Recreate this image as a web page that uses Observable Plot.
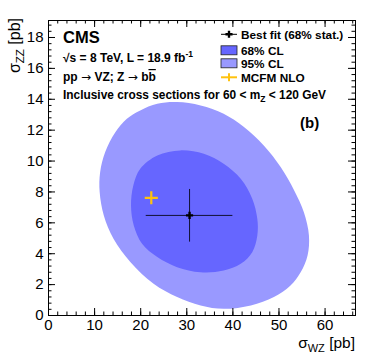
<!DOCTYPE html>
<html><head><meta charset="utf-8">
<script src="https://cdn.jsdelivr.net/npm/d3@7"></script>
<script src="https://cdn.jsdelivr.net/npm/@observablehq/plot@0.6"></script>
<style>
body{margin:0;background:#fff}
#chart svg{font-family:"Liberation Sans",Arial,Helvetica,sans-serif;overflow:visible}
</style>
</head><body><div id="chart"></div>
<script>
// 95% CL contour (sigma_WZ, sigma_ZZ)
const cl95X = [19.9, 23.6, 27.9, 33.0, 38.0, 42.4, 46.7, 50.4, 53.3, 55.4, 56.5, 56.2, 54.7, 52.5, 48.9, 43.9, 38.0, 33.0, 27.9, 22.8, 17.8, 14.1, 12.0, 11.1, 11.2, 12.3, 14.5, 17.0];
const cl95Y = [13.28, 13.71, 13.82, 13.60, 13.06, 12.20, 11.01, 9.60, 8.10, 6.69, 5.18, 3.89, 2.80, 1.94, 1.19, 0.65, 0.43, 0.65, 1.19, 2.05, 3.45, 4.97, 6.48, 7.99, 9.28, 10.58, 11.87, 12.74];
// 68% CL contour
const cl68X = [23.6, 28.6, 33.7, 38.0, 41.7, 44.2, 45.3, 45.3, 44.2, 41.7, 38.0, 33.0, 27.9, 23.6, 20.3, 18.5, 17.9, 18.4, 19.9];
const cl68Y = [10.36, 10.69, 10.47, 9.82, 8.85, 7.56, 6.26, 5.18, 4.10, 3.35, 2.91, 2.80, 3.13, 3.78, 4.64, 5.83, 7.12, 8.42, 9.50];
// best fit with 68% stat. errors
const fitX = [30.6], fitY = [6.48];
const fitXLo = [21.2], fitXHi = [40.0];
const fitYLo = [4.75], fitYHi = [8.16];
// MCFM NLO prediction
const mcfmX = [22.3], mcfmY = [7.62];
// ticks
const xMajor = [0, 10, 20, 30, 40, 50, 60];
const xMinor = [0, 2, 4, 6, 8, 10, 12, 14, 16, 18, 20, 22, 24, 26, 28, 30, 32, 34, 36, 38, 40, 42, 44, 46, 48, 50, 52, 54, 56, 58, 60, 62, 64, 66];
const yMajor = [0, 2, 4, 6, 8, 10, 12, 14, 16, 18];
const yMinor = [0, 0.4, 0.8, 1.2, 1.6, 2, 2.4, 2.8, 3.2, 3.6, 4, 4.4, 4.8, 5.2, 5.6, 6, 6.4, 6.8, 7.2, 7.6, 8, 8.4, 8.8, 9.2, 9.6, 10, 10.4, 10.8, 11.2, 11.6, 12, 12.4, 12.8, 13.2, 13.6, 14, 14.4, 14.8, 15.2, 15.6, 16, 16.4, 16.8, 17.2, 17.6, 18, 18.4, 18.8];
const legendLabels = ["Best fit (68% stat.)", "68% CL", "95% CL", "MCFM NLO"];
const colors = {cl68: "#6666ff", cl95: "#9999ff", mcfm: "#ffc20e"};

const W = 374, H = 363;
const mL = 48, mR = 19, mT = 20, mB = 48;
const pw = W - mL - mR, ph = H - mT - mB;
const maj = 7, mnr = 3.5;

const c95 = cl95X.map((x, i) => ({x, y: cl95Y[i]}));
const c68 = cl68X.map((x, i) => ({x, y: cl68Y[i]}));
const fit = fitX.map((x, i) => ({x, y: fitY[i], x1: fitXLo[i], x2: fitXHi[i], y1: fitYLo[i], y2: fitYHi[i]}));
const mcfm = mcfmX.map((x, i) => ({x, y: mcfmY[i]}));

const chart = Plot.plot({
  width: W, height: H,
  marginLeft: mL, marginRight: mR, marginTop: mT, marginBottom: mB,
  x: {domain: [0, 66.6], axis: null},
  y: {domain: [0, 19.1], axis: null},
  marks: [
    Plot.line(c95, {x: "x", y: "y", curve: "catmull-rom-closed", fill: colors.cl95, stroke: "none"}),
    Plot.line(c68, {x: "x", y: "y", curve: "catmull-rom-closed", fill: colors.cl68, stroke: "none"}),
    Plot.ruleY(fit, {y: "y", x1: "x1", x2: "x2", stroke: "#111133", strokeWidth: 1}),
    Plot.ruleX(fit, {x: "x", y1: "y1", y2: "y2", stroke: "#111133", strokeWidth: 1}),
    Plot.dot(fit, {x: "x", y: "y", symbol: "cross", r: 3, fill: "#000", stroke: "none"}),
    Plot.dot(mcfm, {x: "x", y: "y", symbol: "plus", r: 4.3, stroke: colors.mcfm, strokeWidth: 2.2}),
    // inward ticks on all four sides
    Plot.tickX(xMajor, {x: d => d, insetTop: ph - maj, stroke: "#000"}),
    Plot.tickX(xMinor, {x: d => d, insetTop: ph - mnr, stroke: "#000"}),
    Plot.tickX(xMajor, {x: d => d, insetBottom: ph - maj, stroke: "#000"}),
    Plot.tickX(xMinor, {x: d => d, insetBottom: ph - mnr, stroke: "#000"}),
    Plot.tickY(yMajor, {y: d => d, insetRight: pw - maj, stroke: "#000"}),
    Plot.tickY(yMinor, {y: d => d, insetRight: pw - mnr, stroke: "#000"}),
    Plot.tickY(yMajor, {y: d => d, insetLeft: pw - maj, stroke: "#000"}),
    Plot.tickY(yMinor, {y: d => d, insetLeft: pw - mnr, stroke: "#000"}),
    Plot.axisX({ticks: xMajor, tickSize: 0, tickPadding: 4, fontSize: 15, label: null, tickFormat: d => d}),
    Plot.axisY({ticks: yMajor, tickSize: 0, tickPadding: 5, fontSize: 15, label: null, tickFormat: d => d}),
    Plot.frame({stroke: "#000", strokeWidth: 1})
  ]
});
document.getElementById("chart").appendChild(chart);

const svg = d3.select(chart);
const g = svg.append("g").attr("fill", "#000").attr("text-anchor", "start");

// axis titles
const yt = g.append("text").attr("transform", "translate(19.5,18) rotate(-90)").attr("text-anchor", "end").attr("font-size", 16);
yt.append("tspan").text("σ");
yt.append("tspan").attr("font-size", 11.5).attr("dy", 4).text("ZZ");
yt.append("tspan").attr("dy", -4).text(" [pb]");
const xt = g.append("text").attr("x", 355).attr("y", 348).attr("text-anchor", "end").attr("font-size", 15.5);
xt.append("tspan").text("σ");
xt.append("tspan").attr("font-size", 11).attr("dy", 4).text("WZ");
xt.append("tspan").attr("dy", -4).text(" [pb]");

// CMS block
g.append("text").attr("x", 63).attr("y", 43).attr("font-size", 16.5).attr("font-weight", "bold").text("CMS");
const t1 = g.append("text").attr("x", 63).attr("y", 61.5).attr("font-size", 12).attr("font-weight", "bold");
t1.append("tspan").text("√s = 8 TeV, L = 18.9 fb");
t1.append("tspan").attr("font-size", 8.5).attr("dy", -4.5).text("-1");
const t2 = g.append("text").attr("x", 63).attr("y", 81).attr("font-size", 12).attr("font-weight", "bold");
t2.append("tspan").text("pp ");
t2.append("tspan").attr("font-family", "DejaVu Sans").attr("font-weight", "normal").text("→");
t2.append("tspan").text(" VZ; Z ");
t2.append("tspan").attr("font-family", "DejaVu Sans").attr("font-weight", "normal").text("→");
t2.append("tspan").text(" b");
t2.append("tspan").style("text-decoration", "overline").text("b");
const t3 = g.append("text").attr("x", 63).attr("y", 98.5).attr("font-size", 11.9).attr("font-weight", "bold");
t3.append("tspan").text("Inclusive cross sections for 60 < m");
t3.append("tspan").attr("font-size", 8.5).attr("dy", 3).text("Z");
t3.append("tspan").attr("dy", -3).text(" < 120 GeV");

g.append("text").attr("x", 300).attr("y", 128).attr("font-size", 15).attr("font-weight", "bold").text("(b)");

// legend
const rowsY = [34.3, 50.3, 63.3, 77.3];
const lx0 = 221, lx1 = 237, tx = 241;
legendLabels.forEach((lab, i) => {
  g.append("text").attr("x", tx).attr("y", rowsY[i]).attr("dy", "0.36em").attr("font-size", 11.8).attr("font-weight", "bold").text(lab);
});
g.append("line").attr("x1", lx0).attr("x2", lx1).attr("y1", rowsY[0]).attr("y2", rowsY[0]).attr("stroke", "#000");
g.append("path").attr("d", d3.symbol(d3.symbolCross, 28)()).attr("transform", `translate(${(lx0 + lx1) / 2},${rowsY[0]})`).attr("fill", "#000");
g.append("rect").attr("x", lx0).attr("y", rowsY[1] - 4.5).attr("width", lx1 - lx0).attr("height", 9).attr("fill", colors.cl68).attr("stroke", "#222").attr("stroke-width", 0.8);
g.append("rect").attr("x", lx0).attr("y", rowsY[2] - 4.5).attr("width", lx1 - lx0).attr("height", 9).attr("fill", colors.cl95).attr("stroke", "#222").attr("stroke-width", 0.8);
g.append("line").attr("x1", lx0).attr("x2", lx1).attr("y1", rowsY[3]).attr("y2", rowsY[3]).attr("stroke", colors.mcfm).attr("stroke-width", 2);
g.append("line").attr("x1", (lx0 + lx1) / 2).attr("x2", (lx0 + lx1) / 2).attr("y1", rowsY[3] - 4).attr("y2", rowsY[3] + 4).attr("stroke", colors.mcfm).attr("stroke-width", 2);
</script>
</body></html>
